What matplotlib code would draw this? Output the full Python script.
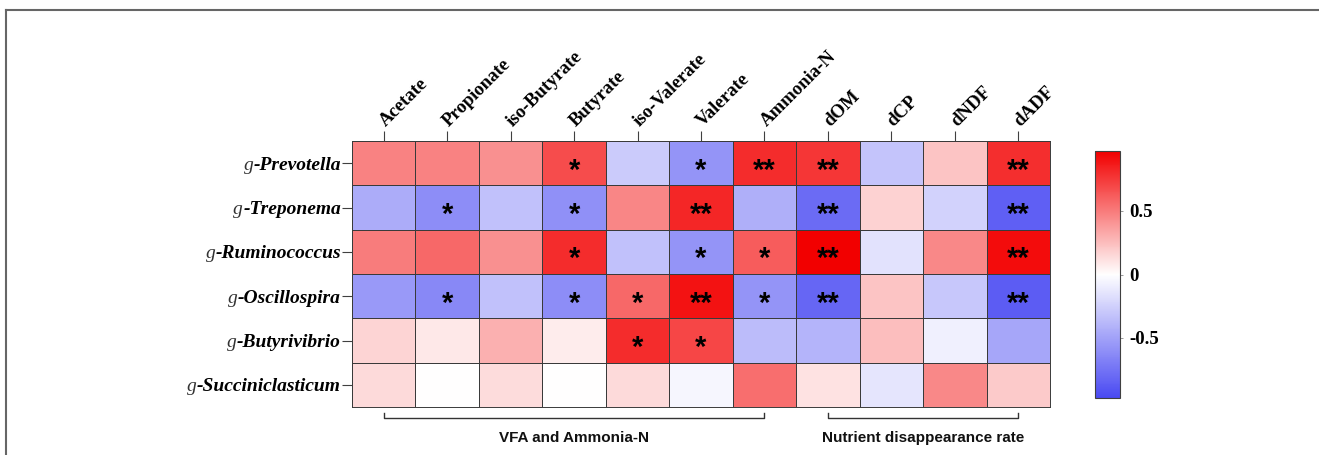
import numpy as np
import matplotlib
matplotlib.use("Agg")
import matplotlib.pyplot as plt
from matplotlib.colors import LinearSegmentedColormap, TwoSlopeNorm
from matplotlib.lines import Line2D
from matplotlib.transforms import ScaledTranslation

# genera (rows) and variables (columns)
genera = ["Prevotella", "Treponema", "Ruminococcus", "Oscillospira",
          "Butyrivibrio", "Succiniclasticum"]
variables = ["Acetate", "Propionate", "iso-Butyrate", "Butyrate", "iso-Valerate",
             "Valerate", "Ammonia-N", "dOM", "dCP", "dNDF", "dADF"]

# correlation coefficients
r_prevotella = [0.47, 0.47, 0.42, 0.68, -0.28, -0.58, 0.80, 0.76, -0.32, 0.22, 0.79]
r_treponema = [-0.45, -0.62, -0.33, -0.60, 0.46, 0.82, -0.43, -0.80, 0.17, -0.24, -0.86]
r_ruminococcus = [0.50, 0.57, 0.42, 0.80, -0.33, -0.58, 0.62, 0.97, -0.16, 0.45, 0.92]
r_oscillospira = [-0.55, -0.64, -0.33, -0.62, 0.57, 0.90, -0.58, -0.82, 0.22, -0.30, -0.88]
r_butyrivibrio = [0.16, 0.09, 0.30, 0.07, 0.80, 0.70, -0.36, -0.40, 0.25, -0.08, -0.48]
r_succiniclasticum = [0.14, 0.0, 0.13, 0.0, 0.14, -0.05, 0.55, 0.11, -0.14, 0.45, 0.20]

# significance marks
s_prevotella = ["", "", "", "*", "", "*", "**", "**", "", "", "**"]
s_treponema = ["", "*", "", "*", "", "**", "", "**", "", "", "**"]
s_ruminococcus = ["", "", "", "*", "", "*", "*", "**", "", "", "**"]
s_oscillospira = ["", "*", "", "*", "*", "**", "*", "**", "", "", "**"]
s_butyrivibrio = ["", "", "", "", "*", "*", "", "", "", "", ""]
s_succiniclasticum = ["", "", "", "", "", "", "", "", "", "", ""]

cbar_ticks = [-0.5, 0, 0.5]
cbar_labels = ["-0.5", "0", "0.5"]

data = np.array([r_prevotella, r_treponema, r_ruminococcus, r_oscillospira,
                 r_butyrivibrio, r_succiniclasticum])
stars = [s_prevotella, s_treponema, s_ruminococcus, s_oscillospira,
         s_butyrivibrio, s_succiniclasticum]

W, H = 1319, 455
fig = plt.figure(figsize=(W / 100, H / 100), dpi=100)

cmap = LinearSegmentedColormap.from_list("bwr_prism", ["#4a4af2", "#ffffff", "#f20000"])
norm = TwoSlopeNorm(vmin=-0.98, vcenter=0, vmax=0.97)

ax = fig.add_axes([352 / W, 1 - 407 / H, 698 / W, 266 / H])
mesh = ax.pcolormesh(np.arange(len(variables) + 1), np.arange(len(genera) + 1), data,
                     cmap=cmap, norm=norm, edgecolors="#3a3a3a", linewidth=0.45)
ax.set_xlim(0, len(variables))
ax.set_ylim(len(genera), 0)
for sp in ax.spines.values():
    sp.set_color("#3a3a3a")
    sp.set_linewidth(0.7)

ax.xaxis.tick_top()
ax.set_xticks(np.arange(len(variables)) + 0.5)
ax.set_xticklabels(variables, rotation=45, ha="left", va="bottom", rotation_mode="anchor",
                   family="Liberation Serif", weight="bold", fontsize=13.5)
ax.set_yticks(np.arange(len(genera)) + 0.5)
ax.set_yticklabels(["-" + g for g in genera], family="Liberation Serif",
                   weight="bold", style="italic", fontsize=14)
ax.tick_params(axis="both", length=7, width=0.8, color="#404040", pad=1)
# nudge the slanted labels so they start right on top of their tick
shift = ScaledTranslation(0.05, 0, fig.dpi_scale_trans)
for lab in ax.get_xticklabels():
    lab.set_transform(lab.get_transform() + shift)

# the "g" prefix is set lighter than the genus name
for lab in ax.get_yticklabels():
    ax.annotate("g", xy=(0, 0), xycoords=lab, ha="right", va="bottom",
                family="Liberation Serif", style="italic", fontsize=14, color="#333333")

for i in range(len(genera)):
    for j in range(len(variables)):
        if stars[i][j]:
            ax.annotate(stars[i][j], xy=(j + 0.5, i + 0.5), xytext=(0, -11),
                        textcoords="offset points", ha="center", va="baseline",
                        family="Liberation Sans", weight="bold", fontsize=21, color="black")

# colour bar
cax = fig.add_axes([1095 / W, 1 - 398 / H, 25 / W, 247 / H])
cb = fig.colorbar(mesh, cax=cax, ticks=cbar_ticks)
cb.ax.set_yticklabels(cbar_labels, family="Liberation Serif", weight="bold", fontsize=13.5)
cb.ax.tick_params(length=2, width=0.6, color="#888888", pad=5)
cb.outline.set_edgecolor("#404040")
cb.outline.set_linewidth(0.8)

# group brackets under the heatmap
def bracket(c0, c1, label):
    x0 = ax.transData.transform((c0 + 0.5, 0))[0] / W
    x1 = ax.transData.transform((c1 + 0.5, 0))[0] / W
    yl = 1 - 418 / H
    yt = 1 - 413 / H
    fig.add_artist(Line2D([x0, x0, x1, x1], [yt, yl, yl, yt], color="#333333", lw=1.0))
    fig.text((x0 + x1) / 2, 1 - 438 / H, label, ha="center", va="center",
             family="Liberation Sans", weight="bold", fontsize=11, color="#111111")

bracket(0, 6, "VFA and Ammonia-N")
bracket(7, 10, "Nutrient disappearance rate")

# frame lines of the cropped panel
fig.add_artist(Line2D([6 / W, 6 / W], [0, 1 - 10 / H], color="#666666", lw=1.5))
fig.add_artist(Line2D([6 / W, 1], [1 - 10 / H, 1 - 10 / H], color="#666666", lw=1.5))

fig.savefig("out.png", dpi=100)
